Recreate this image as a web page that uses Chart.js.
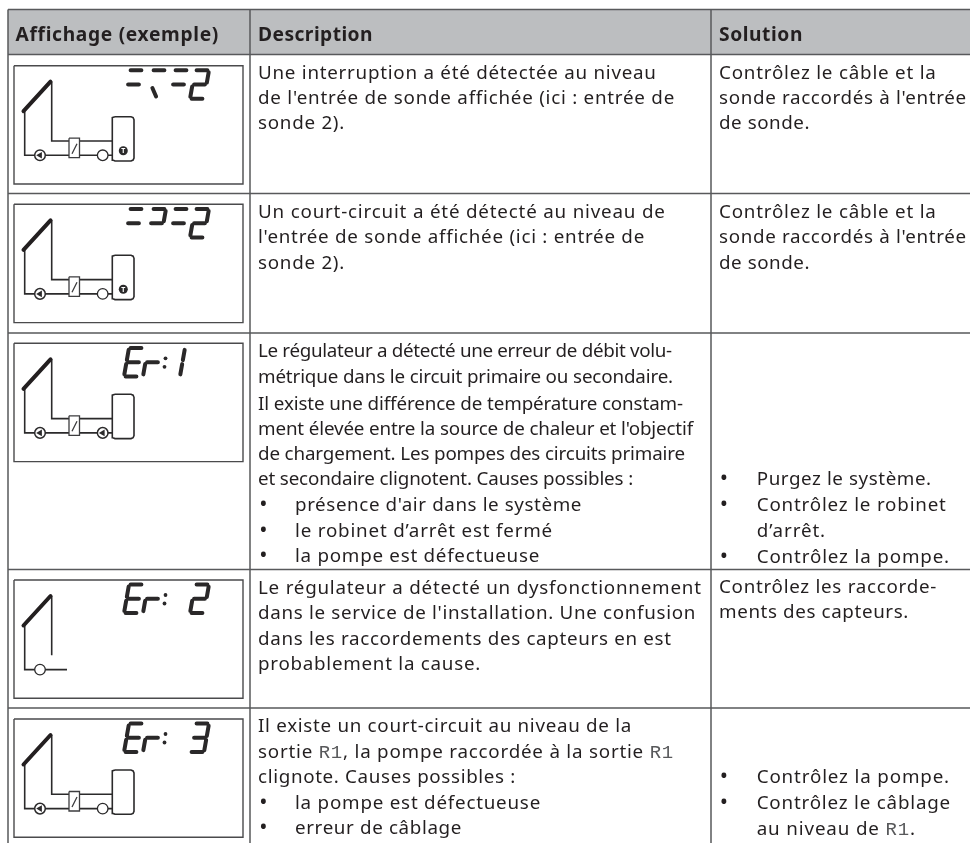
<!DOCTYPE html>
<html><head><meta charset="utf-8">
<style>html,body{margin:0;padding:0;background:#fff}canvas{display:block}</style>
<script src="https://cdn.jsdelivr.net/npm/chart.js@4"></script>
</head><body><canvas id="c" width="970" height="843"></canvas>
<script>
// ---- text content ----
const headers = ["Affichage (exemple)", "Description", "Solution"];
const row1Description = ["Une interruption a été détectée au niveau", "de l'entrée de sonde affichée (ici : entrée de", "sonde 2)."];
const row2Description = ["Un court-circuit a été détecté au niveau de", "l'entrée de sonde affichée (ici : entrée de", "sonde 2)."];
const row3Description = ["Le régulateur a détecté une erreur de débit volu-", "métrique dans le circuit primaire ou secondaire.", "Il existe une différence de température constam-", "ment élevée entre la source de chaleur et l'objectif", "de chargement. Les pompes des circuits primaire", "et secondaire clignotent. Causes possibles :"];
const row3Causes = ["présence d'air dans le système", "le robinet d’arrêt est fermé", "la pompe est défectueuse"];
const row4Description = ["Le régulateur a détecté un dysfonctionnement", "dans le service de l'installation. Une confusion", "dans les raccordements des capteurs en est", "probablement la cause."];
const row5Description = ["Il existe un court-circuit au niveau de la", "sortie {R1}, la pompe raccordée à la sortie {R1}", "clignote. Causes possibles :"];
const row5Causes = ["la pompe est défectueuse", "erreur de câblage"];
const solutionSonde = ["Contrôlez le câble et la", "sonde raccordés à l'entrée", "de sonde."];
const row3Solution = ["Purgez le système.", "Contrôlez le robinet", "d’arrêt.", "Contrôlez la pompe."];
const row4Solution = ["Contrôlez les raccorde-", "ments des capteurs."];
const row5Solution = ["Contrôlez la pompe.", "Contrôlez le câblage", "au niveau de {R1}."];

// ---- table rules ----
const columnRules = [8, 250, 711];
const rowRules = [54.5, 193.5, 333, 569.5, 708];
const tableTop = 9.5;

// ---- display boxes and their LCD contents ----
const boxLeft = 14, boxRight = 243, boxHeight = 118.3;
const boxTops = [65.7, 204.3, 343.3, 580, 719];
// Each LCD glyph: [left x, lit segments]
const lcdRow1 = [[124, "ag"], [147, "ah"], [169, "ag"], [190, "abged"]];
const lcdRow2 = [[124, "ag"], [147, "abg"], [169, "ag"], [190, "abged"]];
const lcdRow3 = [[124, "afged"], [143, "eg"], [166, "bc"]];
const lcdRow4 = [[124, "afged"], [143, "eg"], [190, "abged"]];
const lcdRow5 = [[124, "afged"], [143, "eg"], [190, "abgcd"]];
const lcdRows = [lcdRow1, lcdRow2, lcdRow3, lcdRow4, lcdRow5];
const colonRows = [false, false, true, true, true];

// ---- schematic, y measured from the top of its box ----
const collector = [[23.5, 45.5], [50.5, 16]];
const outerPipeLeft = [[24.7, 45.5], [24.7, 89.6], [69, 89.6]];
const outerPipeRight = [[79.5, 89.6], [112, 89.6]];
const innerPipeLeft = [[51.7, 16], [51.7, 75.3], [69, 75.3]];
const innerPipeRight = [[79.5, 75.3], [112, 75.3]];
const exchanger = [[69, 72.5], [79.5, 72.5], [79.5, 92], [69, 92], [69, 72.5]];
const exchangerSlash = [[72, 88], [77, 78]];
const tank = [[115, 51], [131, 51], [133.1, 51.9], [134, 54], [134, 92.3], [133.1, 94.4], [131, 95.3], [115, 95.3], [112.9, 94.4], [112, 92.3], [112, 54], [112.9, 51.9], [115, 51]];
const rowFourPipe = [[24.7, 45.5], [24.7, 89.6], [67, 89.6]];
const rowFourRiser = [[51.7, 16], [51.7, 75.3]];
const leftValve = [40, 89.6], rightValve = [102.7, 89.6], sensor = [123.3, 85];
const fullSchemeRows = [0, 1, 2, 4];
const leftPumpRows = [0, 1, 2, 4];
const rightPumpRows = [2];
const rightCircleRows = [0, 1, 4];
const sensorRows = [0, 1];

// ---- text layout: [baseline, right edge] for each line ----
const DX = 258, SX = 719, DBX = 295, SBX = 756.7, DBUL = 263.5, SBUL = 724;
const textBlocks = [
  [row1Description, DX, [[79, 656.7], [104.3, 675], [129.3, 345]]],
  [row2Description, DX, [[217.7, 665.7], [243.3, 645], [269, 345]]],
  [row3Description, DX, [[356.7, 671.7], [382.7, 673], [409.5, 683], [434.5, 693], [460, 685], [485, 633]]],
  [row3Causes, DBX, [[510.7, 582], [536.7, 553], [561.7, 540]]],
  [row4Description, DX, [[594.3, 701.7], [619.3, 696], [645, 671.7], [670, 481]]],
  [row5Description, DX, [[732.3, 632], [758.3, 674], [783.3, 516]]],
  [row5Causes, DBX, [[809.3, 541], [834.3, 462]]],
  [solutionSonde, SX, [[78.5, 936.7], [104.3, 966.7], [129.3, 810]]],
  [solutionSonde, SX, [[217.7, 936.7], [243.3, 966.7], [269, 810]]],
  [row3Solution, SBX, [[485, 931.7], [510.7, 946.7], [536.7, 826], [562.7, 950]]],
  [row4Solution, SX, [[593.3, 937], [618.3, 909]]],
  [row5Solution, SBX, [[783.3, 950], [809.3, 951], [835, 916]]]
];
const bulletMarks = [
  [DBUL, 510.7], [DBUL, 536.7], [DBUL, 561.7], [DBUL, 809.3], [DBUL, 834.3],
  [SBUL, 485], [SBUL, 510.7], [SBUL, 562.7], [SBUL, 783.3], [SBUL, 809.3]
];
const headerLayout = [[15.5, 219], [258, 373], [719, 803]];
const headerBaseline = 40.7;

// ---- helpers that turn the arrays into datasets ----
const GAP = {x: NaN, y: NaN};
const pts = (list, top) => list.map(p => ({x: p[0], y: p[1] + top}));
function joined(paths) { const o = []; paths.forEach(p => { o.push(...p, GAP); }); return o; }
const lineSet = (data, color, width, extra) => Object.assign({data, borderColor: color, borderWidth: width, showLine: true, pointRadius: 0, spanGaps: false, tension: 0, fill: false}, extra || {});
function lcdSegments(x, top) {
  const w = 14, h = 28.5, s = 5, i = 1.6;
  const P = (fx, fy) => ({x: x + fx * w + (1 - fy) * s, y: top + fy * h});
  const seg = (a, b, c, d) => [P(a, b), P(c, d)];
  return {
    a: seg(i / w, 0, 1 - i / w, 0), g: seg(i / w, .5, 1 - i / w, .5), d: seg(i / w, 1, 1 - i / w, 1),
    f: seg(0, .07, 0, .43), b: seg(1, .07, 1, .43), e: seg(0, .57, 0, .93), c: seg(1, .57, 1, .93),
    h: seg(.25, .62, .62, .92)
  };
}
const INK = "#2b2a2b", RULE = "#58595b";
const BODY_FONT = "18.8px 'Noto Sans'", MONO_FONT = "19px 'Liberation Mono'";
const gridPaths = [
  ...columnRules.map(x => [{x, y: tableTop}, {x, y: 843}]),
  [{x: columnRules[0], y: tableTop}, {x: 970, y: tableTop}],
  ...rowRules.map(y => [{x: columnRules[0], y}, {x: 970, y}])
];
const boxPaths = boxTops.map(t => [{x: boxLeft, y: t}, {x: boxRight, y: t}, {x: boxRight, y: t + boxHeight}, {x: boxLeft, y: t + boxHeight}, {x: boxLeft, y: t}]);
const collectorPaths = boxTops.map(t => pts(collector, t));
const pipePaths = [], thinPaths = [];
boxTops.forEach((t, r) => {
  if (fullSchemeRows.includes(r)) {
    [outerPipeLeft, outerPipeRight, innerPipeLeft, innerPipeRight, tank].forEach(p => pipePaths.push(pts(p, t)));
    [exchanger, exchangerSlash].forEach(p => thinPaths.push(pts(p, t)));
  } else {
    pipePaths.push(pts(rowFourPipe, t), pts(rowFourRiser, t));
  }
});
const lcdPaths = [];
lcdRows.forEach((glyphs, r) => glyphs.forEach(([x, lit]) => {
  const segs = lcdSegments(x, boxTops[r] + 4.6);
  [...lit].forEach(k => lcdPaths.push(segs[k]));
}));
const colonPts = [];
boxTops.forEach((t, r) => { if (colonRows[r]) colonPts.push({x: 165.5, y: t + 15}, {x: 164.5, y: t + 23.5}); });
const at = (rows, p) => rows.map(r => ({x: p[0], y: p[1] + boxTops[r]}));
const pumpCircles = at(leftPumpRows, leftValve).concat(at(rightPumpRows, rightValve));
const openCircles = at(rightCircleRows, rightValve).concat([{x: leftValve[0], y: leftValve[1] + boxTops[3]}]);
const sensorPts = at(sensorRows, sensor);

function drawLine(ctx, chart, raw, left, baseline, right) {
  const px = chart.scales.x.getPixelForValue(left), py = chart.scales.y.getPixelForValue(baseline);
  const pr = chart.scales.x.getPixelForValue(right);
  const parts = raw.split(/(\{R1\})/).filter(Boolean).map(t => t === "{R1}" ? {t: "R1", mono: true} : {t, mono: false});
  ctx.letterSpacing = "0px";
  let total = 0, chars = 0;
  parts.forEach(p => {
    ctx.font = p.mono ? MONO_FONT : BODY_FONT;
    p.w = ctx.measureText(p.t).width; total += p.w; chars += p.t.length;
  });
  const ls = (pr - px - total) / chars;
  ctx.letterSpacing = ls.toFixed(3) + "px";
  let x = px;
  parts.forEach(p => {
    ctx.font = p.mono ? MONO_FONT : BODY_FONT;
    ctx.fillStyle = p.mono ? "#58595b" : "#231f20";
    ctx.fillText(p.t, x, py);
    x += p.w + ls * p.t.length;
  });
  ctx.letterSpacing = "0px";
}

const tableText = {
  id: "tableText",
  afterDatasetsDraw(chart) {
    const ctx = chart.ctx, X = chart.scales.x, Y = chart.scales.y;
    ctx.save();
    ctx.textAlign = "left"; ctx.textBaseline = "alphabetic";
    headers.forEach((h, i) => {
      ctx.letterSpacing = "0px";
      ctx.font = "bold 19.2px 'Noto Sans'";
      const [l, r] = headerLayout[i];
      const ls = (r - l - ctx.measureText(h).width) / h.length;
      ctx.letterSpacing = ls.toFixed(3) + "px";
      ctx.fillStyle = "#231f20";
      ctx.fillText(h, X.getPixelForValue(l), Y.getPixelForValue(headerBaseline));
    });
    ctx.letterSpacing = "0px";
    textBlocks.forEach(([lines, left, layout]) => lines.forEach((t, i) => drawLine(ctx, chart, t, left, layout[i][0], layout[i][1])));
    ctx.textAlign = "center"; ctx.fillStyle = "#231f20"; ctx.font = "22px 'Noto Sans'";
    bulletMarks.forEach(([x, y]) => ctx.fillText("•", X.getPixelForValue(x), Y.getPixelForValue(y)));
    ctx.font = "bold 7px 'Noto Sans'"; ctx.fillStyle = "#fff";
    sensorPts.forEach(p => ctx.fillText("T", X.getPixelForValue(p.x), Y.getPixelForValue(p.y) + 2.6));
    ctx.restore();
  }
};

new Chart(document.getElementById("c"), {
  type: "scatter",
  data: {datasets: [
    {data: sensorPts, pointRadius: 4.5, pointBackgroundColor: INK, pointBorderWidth: 0, order: 0},
    {data: pumpCircles, pointStyle: "triangle", pointRotation: -90, pointRadius: 3.8, pointBackgroundColor: INK, pointBorderWidth: 0, order: 1},
    {data: pumpCircles, pointRadius: 5.3, pointBackgroundColor: "#fff", pointBorderColor: INK, pointBorderWidth: 1.5, order: 2},
    {data: openCircles, pointRadius: 5.3, pointBackgroundColor: "#fff", pointBorderColor: INK, pointBorderWidth: 1.3, order: 3},
    lineSet(joined(lcdPaths), "#2a2829", 4, {borderCapStyle: "round", order: 4}),
    {data: colonPts, pointRadius: 1.9, pointBackgroundColor: "#2a2829", pointBorderWidth: 0, order: 5},
    lineSet(joined(collectorPaths), "#231f20", 4, {borderCapStyle: "round", order: 6}),
    lineSet(joined(thinPaths), "#3d3d3f", 1.3, {order: 7}),
    lineSet(joined(pipePaths), INK, 1.6, {order: 8}),
    lineSet(joined(boxPaths), "#4a4a4c", 1.4, {order: 9}),
    lineSet(joined(gridPaths), RULE, 1.5, {order: 10}),
    lineSet([{x: columnRules[0], y: rowRules[0]}, {x: 970, y: rowRules[0]}], "#bcbec0", 0, {fill: {value: tableTop}, backgroundColor: "#bcbec0", order: 11})
  ]},
  options: {
    responsive: false, animation: false, events: [],
    layout: {padding: 0, autoPadding: false},
    plugins: {legend: {display: false}, tooltip: {enabled: false}, title: {display: false}},
    scales: {
      x: {type: "linear", min: 0, max: 970, display: false},
      y: {type: "linear", min: 0, max: 843, reverse: true, display: false}
    }
  },
  plugins: [tableText]
});
</script></body></html>
